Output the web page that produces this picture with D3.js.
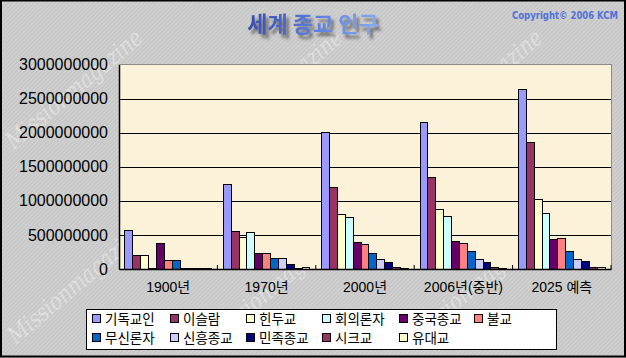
<!DOCTYPE html>
<html>
<head>
<meta charset="utf-8">
<script src="https://cdn.jsdelivr.net/npm/d3@7"></script>
<style>
  html, body { margin: 0; padding: 0; background: #fff; }
  svg { display: block; }
</style>
</head>
<body>
<div id="chart"></div>
<script>
// chart size
const WIDTH = 626;
const HEIGHT = 358;

// data (values in millions of people)
const categories = ["1900년", "1970년", "2000년", "2006년(중반)", "2025 예측"];
const seriesNames = ["기독교인", "이슬람", "힌두교", "회의론자", "중국종교", "불교",
                     "무신론자", "신흥종교", "민족종교", "시크교", "유대교"];
const seriesColours = ["#9999ff", "#993366", "#ffffcc", "#ccffff", "#660066", "#ff8080",
                       "#0066cc", "#ccccff", "#000080", "#993366", "#ffffcc"];
const christians   = [558, 1236, 1999, 2150, 2630];
const muslims      = [200, 553, 1195, 1342, 1854];
const hindus       = [203, 463, 800, 873, 1020];
const nonreligious = [3, 532, 756, 771, 815];
const chineseFolk  = [380, 233, 390, 405, 434];
const buddhists    = [130, 233, 361, 376, 449];
const atheists     = [118, 156, 229, 259, 259];
const newReligions = [6, 156, 142, 142, 142];
const ethnic       = [2, 69, 98, 98, 115];
const sikhs        = [3, 10, 25, 25, 25];
const jews         = [12, 15, 14, 14, 15];
const seriesValues = [christians, muslims, hindus, nonreligious, chineseFolk, buddhists,
                      atheists, newReligions, ethnic, sikhs, jews];
const yTicks = [0, 500, 1000, 1500, 2000, 2500, 3000];

// plot area
const PLOT = {left: 119, top: 64.5, right: 611, bottom: 269};

let svg = d3.select("#chart")
            .append("svg")
            .attr("width", WIDTH)
            .attr("height", HEIGHT);

let defs = svg.append("defs");

// diagonal stripes for the grey background
let stripes = defs.append("pattern")
                  .attr("id", "stripes")
                  .attr("patternUnits", "userSpaceOnUse")
                  .attr("width", 3)
                  .attr("height", 3)
                  .attr("patternTransform", "rotate(45)");
stripes.append("rect").attr("width", 3).attr("height", 3).attr("fill", "#c7c7c7");
stripes.append("rect").attr("width", 1).attr("height", 3).attr("fill", "#d3d3d3");

// title gradient + shadow
let grad = defs.append("linearGradient")
               .attr("id", "titleGrad")
               .attr("gradientUnits", "userSpaceOnUse")
               .attr("x1", 240).attr("y1", 12)
               .attr("x2", 390).attr("y2", 36);
grad.append("stop").attr("offset", "0%").attr("stop-color", "#3346a6");
grad.append("stop").attr("offset", "50%").attr("stop-color", "#5a7fe0");
grad.append("stop").attr("offset", "100%").attr("stop-color", "#8fb2f5");

let shadow = defs.append("filter").attr("id", "shadow")
                 .attr("x", "-10%").attr("y", "-30%").attr("width", "130%").attr("height", "180%");
shadow.append("feDropShadow")
      .attr("dx", 3).attr("dy", 4).attr("stdDeviation", 1.6)
      .attr("flood-color", "#555").attr("flood-opacity", 0.8);

// background
svg.append("rect")
   .attr("width", WIDTH).attr("height", HEIGHT)
   .attr("fill", "url(#stripes)");

// watermark text (kept inside the picture)
let marks = svg.append("g")
               .attr("fill", "#ffffff")
               .attr("fill-opacity", 0.38)
               .attr("font-family", "'DejaVu Serif', serif")
               .attr("font-style", "italic")
               .attr("font-size", 24);
[[14, 150], [214, 150], [414, 150], [16, 345], [216, 345], [416, 345]].forEach(p => {
    marks.append("text")
         .attr("transform", `translate(${p[0]},${p[1]}) rotate(-40)`)
         .attr("textLength", 170)
         .attr("lengthAdjust", "spacingAndGlyphs")
         .text("Missionmagazine");
});

// outer border
svg.append("rect")
   .attr("x", 1).attr("y", 0.5)
   .attr("width", WIDTH - 2).attr("height", HEIGHT - 2)
   .attr("fill", "none")
   .attr("stroke", "#000")
   .attr("stroke-width", 2);

// title
svg.append("text")
   .attr("x", 313).attr("y", 32)
   .attr("text-anchor", "middle")
   .attr("font-family", "'Noto Sans CJK KR', sans-serif")
   .attr("font-weight", "bold")
   .attr("font-size", 22)
   .attr("fill", "url(#titleGrad)")
   .attr("filter", "url(#shadow)")
   .text("세계 종교 인구");

svg.append("text")
   .attr("x", 618).attr("y", 19)
   .attr("text-anchor", "end")
   .attr("font-family", "'DejaVu Sans Condensed', 'DejaVu Sans', sans-serif")
   .attr("font-weight", "bold")
   .attr("font-size", 10)
   .attr("fill", "#4f72d8")
   .attr("textLength", 106)
   .attr("lengthAdjust", "spacingAndGlyphs")
   .text("Copyright© 2006 KCM");

// scales
let x = d3.scaleBand()
          .domain(categories)
          .range([PLOT.left, PLOT.right]);

let xInner = d3.scaleBand()
               .domain(seriesNames)
               .range([0, x.bandwidth()])
               .paddingOuter(0.75);

let y = d3.scaleLinear()
          .domain([0, 3000])
          .range([PLOT.bottom, PLOT.top]);

// plot area
svg.append("rect")
   .attr("x", PLOT.left).attr("y", PLOT.top)
   .attr("width", PLOT.right - PLOT.left)
   .attr("height", PLOT.bottom - PLOT.top)
   .attr("fill", "#fcf1d9")
   .attr("stroke", "#8a8a8a")
   .attr("stroke-width", 1)
   .attr("shape-rendering", "crispEdges");

// gridlines
svg.append("g")
   .selectAll("line")
   .data(yTicks.filter(t => t > 0 && t < 3000))
   .join("line")
   .attr("x1", PLOT.left).attr("x2", PLOT.right)
   .attr("y1", d => Math.round(y(d)) + 0.5)
   .attr("y2", d => Math.round(y(d)) + 0.5)
   .attr("stroke", "#000")
   .attr("stroke-width", 1);

// bars
let groups = svg.append("g")
                .selectAll("g")
                .data(categories)
                .join("g")
                .attr("transform", d => `translate(${x(d)},0)`);

groups.selectAll("rect")
      .data((c, ci) => seriesNames.map((s, si) => ({name: s, value: seriesValues[si][ci], colour: seriesColours[si]})))
      .join("rect")
      .attr("x", d => xInner(d.name))
      .attr("width", xInner.bandwidth())
      .attr("y", d => y(d.value))
      .attr("height", d => PLOT.bottom - y(d.value))
      .attr("fill", d => d.colour)
      .attr("stroke", "#000")
      .attr("stroke-width", 1)
      .attr("shape-rendering", "crispEdges");

// y axis
let yAxis = d3.axisLeft(y)
              .tickValues(yTicks)
              .tickSize(0)
              .tickPadding(11)
              .tickFormat(d => d3.format("d")(d * 1e6));

let yG = svg.append("g")
            .attr("transform", `translate(${PLOT.left},0)`)
            .call(yAxis);
yG.select(".domain").attr("stroke", "#000").attr("stroke-width", 1.5);
yG.selectAll("text")
  .attr("font-family", "'Liberation Sans', Arial, sans-serif")
  .attr("font-size", 16)
  .attr("fill", "#000");

// x axis
let xAxis = d3.axisBottom(x)
              .tickSize(0)
              .tickPadding(13);

let xG = svg.append("g")
            .attr("transform", `translate(0,${PLOT.bottom})`)
            .call(xAxis);
xG.select(".domain").attr("stroke", "#000").attr("stroke-width", 1.5);
xG.selectAll("text")
  .attr("font-family", "'Liberation Sans', 'Noto Sans CJK KR', sans-serif")
  .attr("font-size", 14)
  .attr("fill", "#000");

// small ticks between categories (inside the plot)
svg.append("g")
   .selectAll("line")
   .data(categories.slice(1).concat(["end"]))
   .join("line")
   .attr("x1", d => d === "end" ? PLOT.right : x(d))
   .attr("x2", d => d === "end" ? PLOT.right : x(d))
   .attr("y1", PLOT.bottom - 4)
   .attr("y2", PLOT.bottom)
   .attr("stroke", "#000")
   .attr("stroke-width", 1);

// legend
const LEGEND = {x: 86, y: 309, w: 470, h: 40};
const legendCols = [92, 170, 246, 322, 399, 474];

let legend = svg.append("g");
legend.append("rect")
      .attr("x", LEGEND.x + 0.5).attr("y", LEGEND.y + 0.5)
      .attr("width", LEGEND.w).attr("height", LEGEND.h)
      .attr("fill", "#fff")
      .attr("stroke", "#000");

let items = legend.selectAll("g.item")
                  .data(seriesNames)
                  .join("g")
                  .attr("class", "item")
                  .attr("transform", (d, i) => `translate(${legendCols[i % 6]},${i < 6 ? 319 : 338})`);

items.append("rect")
     .attr("x", 0.5).attr("y", -4.5)
     .attr("width", 8).attr("height", 8)
     .attr("fill", (d, i) => seriesColours[i])
     .attr("stroke", "#000");

items.append("text")
     .attr("x", 13).attr("y", 5)
     .attr("font-family", "'Noto Sans CJK KR', sans-serif")
     .attr("font-size", 13.5)
     .attr("fill", "#000")
     .text(d => d);
</script>
</body>
</html>
